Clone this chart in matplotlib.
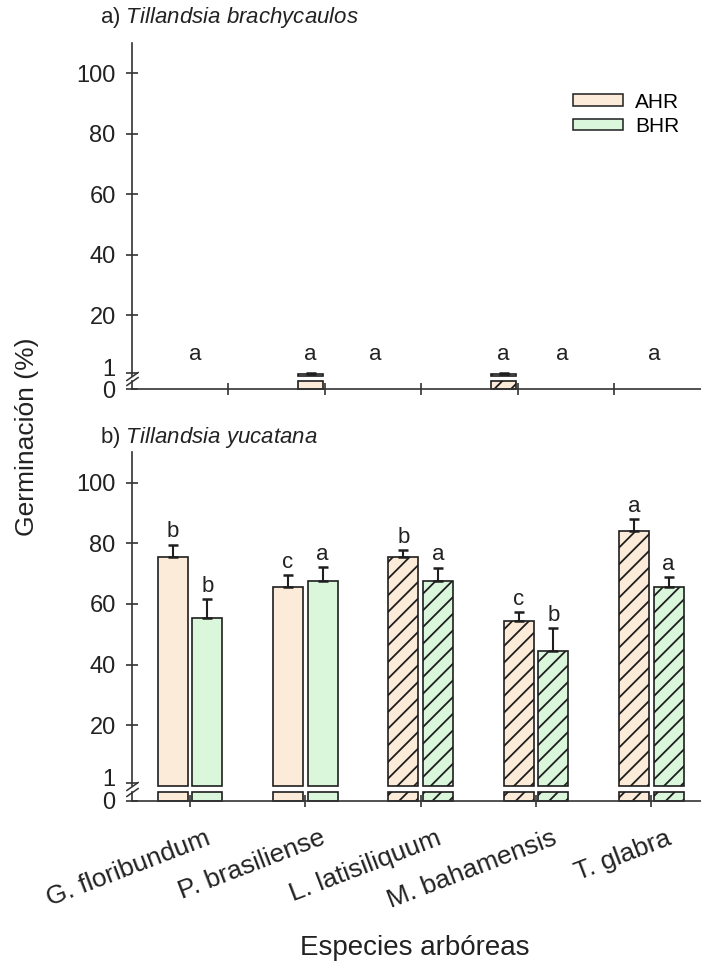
import matplotlib
matplotlib.use("Agg")
import matplotlib.pyplot as plt
import matplotlib.transforms as mtransforms
import numpy as np
from matplotlib.patches import Patch

plt.rcParams['font.family'] = ['Liberation Sans', 'DejaVu Sans']
plt.rcParams['mathtext.fontset'] = 'custom'
plt.rcParams['mathtext.it'] = 'Liberation Sans:italic'
plt.rcParams['mathtext.rm'] = 'Liberation Sans'
plt.rcParams['hatch.linewidth'] = 1.3

species = ["G. floribundum", "P. brasiliense", "L. latisiliquum",
           "M. bahamensis", "T. glabra"]
hatches = [None, None, "//", "//", "//"]

# a) Tillandsia brachycaulos
a_ahr = [0.0, 0.7, 0.0, 0.7, 0.0]
a_bhr = [0.0, 0.0, 0.0, 0.0, 0.0]
a_ahr_err = [0.0, 0.4, 0.0, 0.4, 0.0]
a_bhr_err = [0.0, 0.0, 0.0, 0.0, 0.0]
a_letters = ["a", "a", "a", "a", "a", "a"]
a_letter_x = [-0.34, 0.85, 1.52, 2.85, 3.46, 4.42]
a_letter_y = 7

# b) Tillandsia yucatana
b_ahr = [75.5, 65.5, 75.5, 54.5, 84.0]
b_bhr = [55.5, 67.5, 67.5, 44.5, 65.5]
b_ahr_err = [4.0, 4.0, 2.2, 2.7, 3.9]
b_bhr_err = [6.1, 4.6, 4.5, 7.5, 3.3]
b_ahr_letters = ["b", "c", "b", "c", "a"]
b_bhr_letters = ["b", "a", "a", "b", "a"]

C_AHR = "#fdebd9"
C_BHR = "#daf7dc"
EDGE = "#1e1e1e"
TXT = "#222222"
LOW_TOP = 0.5     # top of the 0 segment
UP_BOT = 0.1      # bottom of the upper segment
W, H = 701, 972

fig = plt.figure(figsize=(W / 100, H / 100), dpi=100)


def px_axes(top, bottom, left=131.7, right=701):
    return fig.add_axes([left / W, 1 - bottom / H, (right - left) / W, (bottom - top) / H])


def setup(ax_top, ax_bot, xlim):
    for ax in (ax_top, ax_bot):
        ax.set_xlim(*xlim)
        ax.spines["top"].set_visible(False)
        ax.spines["right"].set_visible(False)
        for s in ax.spines.values():
            s.set_color("#333333")
            s.set_linewidth(1.2)
        ax.tick_params(axis="y", direction="inout", length=9, width=1.1,
                       labelsize=17, pad=7, colors=TXT)
    ax_top.spines["bottom"].set_visible(False)
    ax_top.set_ylim(UP_BOT, 110)
    ax_top.set_yticks([1, 20, 40, 60, 80, 100])
    ax_top.set_xticks([])
    # lift the "1" label a little so it clears the "0"
    lab1 = ax_top.get_yticklabels()[0]
    lab1.set_transform(lab1.get_transform() +
                       mtransforms.ScaledTranslation(0, 5 / 100, fig.dpi_scale_trans))
    ax_bot.set_ylim(0, LOW_TOP)
    ax_bot.set_yticks([0])
    ax_bot.set_xticks(range(len(species)))
    ax_bot.tick_params(axis="x", direction="inout", length=9, width=1.1,
                       labelsize=19, colors=TXT)
    # break marks on the y axis
    kw = dict(marker=[(-1, -0.7), (1, 0.7)], markersize=9, linestyle="none",
              color="#333333", mec="#333333", mew=1.1, clip_on=False)
    ax_top.plot([0], [0], transform=ax_top.transAxes, **kw)
    ax_bot.plot([0], [1], transform=ax_bot.transAxes, **kw)


def draw_bars(ax_top, ax_bot, vals, errs, offset, color):
    vals = np.asarray(vals)
    errs = np.asarray(errs)
    x = np.arange(len(vals)) + offset
    for i in range(len(vals)):
        if vals[i] <= 0:
            continue
        ax_bot.bar(x[i], min(vals[i], LOW_TOP), width=0.26, color=color,
                   edgecolor=EDGE, linewidth=1.2, hatch=hatches[i], clip_on=False)
        if vals[i] > UP_BOT:
            ax_top.bar(x[i], vals[i] - UP_BOT, bottom=UP_BOT, width=0.26, color=color,
                       edgecolor=EDGE, linewidth=1.2, hatch=hatches[i], clip_on=False)
            ax_top.errorbar(x[i], vals[i], yerr=[[0], [errs[i]]], fmt="none",
                            ecolor=EDGE, elinewidth=1.5, capsize=3.5, capthick=1.8,
                            clip_on=False)
    return x


# panel a
axa = px_axes(43, 375.7)
axa_low = px_axes(381, 389.5)
setup(axa, axa_low, (-1.0, 4.9))
axa_low.set_xticklabels([])
draw_bars(axa, axa_low, a_ahr, a_ahr_err, -0.145, C_AHR)
draw_bars(axa, axa_low, a_bhr, a_bhr_err, 0.145, C_BHR)
for lx, lt in zip(a_letter_x, a_letters):
    axa.text(lx, a_letter_y, lt, ha="center", va="center", fontsize=16, color=TXT)

# panel b
axb = px_axes(452.3, 785.7)
axb_low = px_axes(792.3, 800.7)
setup(axb, axb_low, (-0.505, 4.43))
xa = draw_bars(axb, axb_low, b_ahr, b_ahr_err, -0.15, C_AHR)
xb = draw_bars(axb, axb_low, b_bhr, b_bhr_err, 0.15, C_BHR)
for x, v, e, t in zip(xa, b_ahr, b_ahr_err, b_ahr_letters):
    axb.text(x, v + e + 0.8, t, ha="center", va="bottom", fontsize=16, color=TXT)
for x, v, e, t in zip(xb, b_bhr, b_bhr_err, b_bhr_letters):
    axb.text(x, v + e + 0.8, t, ha="center", va="bottom", fontsize=16, color=TXT)
axb_low.set_xticklabels(species, rotation=21, ha="right", va="top",
                        rotation_mode="anchor")
shift = mtransforms.ScaledTranslation(15 / 100, -14 / 100, fig.dpi_scale_trans)
for lab in axb_low.get_xticklabels():
    lab.set_transform(lab.get_transform() + shift)

fig.text(100 / W, 1 - 18 / H, r"a) $\it{Tillandsia\ brachycaulos}$",
         fontsize=16, va="center", ha="left", color=TXT)
fig.text(100 / W, 1 - 437 / H, r"b) $\it{Tillandsia\ yucatana}$",
         fontsize=16, va="center", ha="left", color=TXT)
fig.text(27 / W, 1 - 437 / H, "Germinación (%)", rotation=90, fontsize=19,
         va="center", ha="center", color=TXT)
fig.text(415 / W, 1 - 948 / H, "Especies arbóreas", fontsize=20,
         va="center", ha="center", color=TXT)

handles = [Patch(facecolor=C_AHR, edgecolor=EDGE, linewidth=1.1, label="AHR"),
           Patch(facecolor=C_BHR, edgecolor=EDGE, linewidth=1.1, label="BHR")]
fig.legend(handles=handles, loc="upper right", bbox_to_anchor=(698 / W, 1 - 74 / H),
           frameon=False, fontsize=15, handlelength=2.4, handleheight=0.5,
           labelspacing=0.25, handletextpad=0.6)

fig.savefig("out.png", dpi=100)
